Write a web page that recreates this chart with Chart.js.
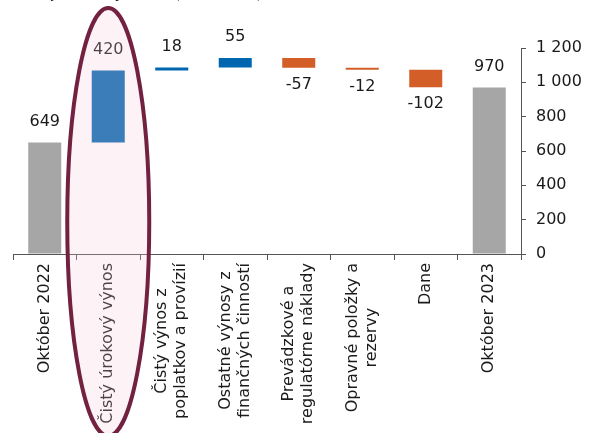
<!DOCTYPE html>
<html>
<head>
<meta charset="utf-8">
<script src="https://cdn.jsdelivr.net/npm/chart.js@4"></script>
<style>
  html, body { margin: 0; padding: 0; background: #fff; }
  #wrap { width: 590px; height: 433px; }
</style>
</head>
<body>
<div id="wrap"><canvas id="myChart"></canvas></div>
<script>
// data
var categories = [
  ['Október 2022'],
  ['Čistý úrokový výnos'],
  ['Čistý výnos z', 'poplatkov a provízií'],
  ['Ostatné výnosy z', 'finančných činností'],
  ['Prevádzkové a', 'regulatórne náklady'],
  ['Opravné položky a', 'rezervy'],
  ['Dane'],
  ['Október 2023']
];
var values = [649, 420, 18, 55, -57, -12, -102, 970];
var isTotal = [true, false, false, false, false, false, false, true];
var yTicks = [0, 200, 400, 600, 800, 1000, 1200];
var highlighted = 1;

// floating bars for the waterfall
var ranges = [];
var colors = [];
var running = 0;
for (var i = 0; i < values.length; i++) {
  if (isTotal[i]) {
    ranges.push([0, values[i]]);
    running = values[i];
    colors.push('#a6a6a6');
  } else {
    ranges.push([running, running + values[i]]);
    running += values[i];
    colors.push(values[i] >= 0 ? '#0066b0' : '#d35e28');
  }
}

var textColor = '#1a1a1a';
var font = "'DejaVu Sans', Verdana, sans-serif";

var waterfallLabels = {
  id: 'waterfallLabels',
  afterDatasetsDraw: function(chart) {
    var c = chart.ctx;
    var meta = chart.getDatasetMeta(0);
    c.save();
    c.font = '16px ' + font;
    c.fillStyle = textColor;
    c.textAlign = 'center';
    meta.data.forEach(function(bar, i) {
      var top = Math.min(bar.y, bar.base);
      var bottom = Math.max(bar.y, bar.base);
      if (values[i] >= 0) {
        c.textBaseline = 'bottom';
        c.fillText(String(values[i]), bar.x, top - 13);
      } else {
        c.textBaseline = 'top';
        c.fillText('-' + Math.abs(values[i]), bar.x, bottom + 9);
      }
    });

    // category labels: rotated, lines centred on each other, block ends at the axis
    var xs = chart.scales.x;
    var axisY = xs.top;
    c.textBaseline = 'middle';
    categories.forEach(function(lines, i) {
      var maxW = 0;
      lines.forEach(function(l) { maxW = Math.max(maxW, c.measureText(l).width); });
      c.save();
      c.translate(xs.getPixelForValue(i), axisY + 9 + maxW / 2);
      c.rotate(-Math.PI / 2);
      lines.forEach(function(l, k) {
        c.fillText(l, 0, (k - (lines.length - 1) / 2) * 19);
      });
      c.restore();
    });
    c.restore();
  },
  afterDraw: function(chart) {
    var c = chart.ctx;
    // title line, cut off at the top edge
    c.save();
    c.font = '16px ' + font;
    c.fillStyle = textColor;
    c.textBaseline = 'alphabetic';
    c.fillText('Zdroje zmeny zisku (v mil. eur)', 14, -2);
    // highlight ellipse around the interest income category
    var cx = chart.scales.x.getPixelForValue(highlighted);
    c.beginPath();
    c.ellipse(cx, 222, 41, 214, 0, 0, Math.PI * 2);
    c.fillStyle = 'rgba(248, 200, 214, 0.24)';
    c.fill();
    c.lineWidth = 4;
    c.strokeStyle = '#722240';
    c.stroke();
    c.restore();
  }
};

var ctx = document.getElementById('myChart').getContext('2d');
var myChart = new Chart(ctx, {
  type: 'bar',
  data: {
    labels: categories,
    datasets: [{
      data: ranges,
      backgroundColor: colors,
      borderWidth: 0,
      categoryPercentage: 1,
      barPercentage: 0.52
    }]
  },
  options: {
    responsive: true,
    maintainAspectRatio: false,
    animation: false,
    layout: { padding: { left: 13, top: 48, right: 0, bottom: 0 } },
    plugins: {
      legend: { display: false },
      tooltip: { enabled: false }
    },
    scales: {
      x: {
        grid: { offset: true, drawOnChartArea: false, tickLength: 6, color: '#555' },
        border: { color: '#555', width: 1 },
        ticks: { display: false },
        afterFit: function(scale) { scale.height = 179; }
      },
      y: {
        position: 'right',
        min: 0,
        max: 1200,
        afterBuildTicks: function(scale) {
          scale.ticks = yTicks.map(function(v) { return { value: v }; });
        },
        grid: { drawOnChartArea: false, tickLength: 5, color: '#555' },
        border: { color: '#555', width: 1 },
        ticks: {
          color: textColor,
          font: { family: font, size: 16 },
          padding: 10,
          callback: function(v) {
            return String(v).replace(/\B(?=(\d{3})+(?!\d))/g, ' ');
          }
        },
        afterFit: function(scale) { scale.width = 69; }
      }
    }
  },
  plugins: [waterfallLabels]
});
</script>
</body>
</html>
